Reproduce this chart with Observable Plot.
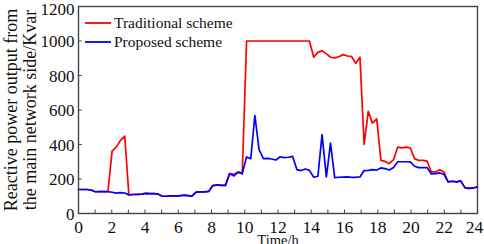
<!DOCTYPE html>
<html><head><meta charset="utf-8">
<script src="https://cdn.jsdelivr.net/npm/d3@7"></script>
<script src="https://cdn.jsdelivr.net/npm/@observablehq/plot@0.6"></script>
<style>
html,body{margin:0;padding:0;background:#fff;}
#wrap{position:relative;width:484px;height:244px;overflow:hidden;font-family:"Liberation Serif","Times New Roman",serif;}
#wrap svg text{font-family:"Liberation Serif","Times New Roman",serif;}
#legend{position:absolute;left:85px;top:13px;font-size:15.5px;color:#111;}
#legend .row{display:flex;align-items:center;height:19px;}
#legend svg{margin-right:3px;}
</style></head><body>
<div id="wrap"><div id="legend"></div></div>
<script>
const time = [0.00,0.25,0.51,0.76,1.01,1.26,1.52,1.77,2.02,2.27,2.53,2.78,3.03,3.28,3.54,3.79,4.04,4.29,4.55,4.80,5.05,5.31,5.56,5.81,6.06,6.32,6.57,6.82,7.07,7.33,7.58,7.83,8.08,8.34,8.59,8.84,9.09,9.35,9.60,9.85,10.11,10.36,10.61,10.86,11.12,11.37,11.62,11.87,12.13,12.38,12.63,12.88,13.14,13.39,13.64,13.89,14.15,14.40,14.65,14.91,15.16,15.41,15.66,15.92,16.17,16.42,16.67,16.93,17.18,17.43,17.68,17.94,18.19,18.44,18.69,18.95,19.20,19.45,19.71,19.96,20.21,20.46,20.72,20.97,21.22,21.47,21.73,21.98,22.23,22.48,22.74,22.99,23.24,23.49,23.75,24.00];
const traditional = [139,139,139,136,126,127,127,127,362,385,
424,449,108,110,111,112,117,115,115,112,
100,100,102,103,102,106,104,101,124,125,
125,128,162,166,163,163,231,228,240,231,
1000,1000,1000,1000,1000,1000,1000,1000,1000,1000,
1000,1000,1000,1000,1000,1000,906,934,944,925,
906,902,909,921,913,911,871,906,401,592,
524,549,308,302,289,312,385,380,385,380,
318,308,308,304,241,241,254,241,183,187,
183,189,150,146,148,154];
const proposed = [139,139,139,136,126,127,127,127,123,118,
121,119,108,110,111,112,117,115,115,112,
100,100,102,103,102,106,104,101,124,125,
125,128,162,166,163,163,231,218,240,231,
328,318,568,370,318,320,316,310,329,324,
326,331,254,249,258,250,210,216,457,212,
408,208,210,211,212,210,210,212,249,250,
254,252,264,260,252,266,300,300,300,299,
274,266,266,266,229,231,235,227,183,187,
183,189,150,146,148,154];
const seriesNames = ["Traditional scheme", "Proposed scheme"];
const seriesColors = ["#ff0000", "#0000ff"];
const xTicks = [0,2,4,6,8,10,12,14,16,18,20,22];
const xLastTick = [24];
const xMinorTicks = [1,2,3,4,5,6,7,8,9,10,11,12,13,14,15,16,17,18,19,20,21,22,23];
const yTicks = [0,200,400,600,800,1000];
const yTopTick = [1200];
const yInnerTicks = [200,400,600,800,1000];
const xLabel = "Time/h";
const yLabel = "Reactive power output from\nthe main network side/Kvar";

const data = time.map((t, i) => ({t, trad: traditional[i], prop: proposed[i]}));
const font = '"Liberation Serif","Times New Roman",serif';
const fmt = d => String(d);

const chart = Plot.plot({
  width: 484, height: 244,
  marginLeft: 78, marginRight: 7, marginTop: 6, marginBottom: 31,
  style: {fontFamily: font, background: "white", color: "#111"},
  x: {domain: [0, 24]},
  y: {domain: [0, 1200]},
  marks: [
    Plot.line(data, {x: "t", y: "trad", stroke: seriesColors[0], strokeWidth: 1.7}),
    Plot.line(data, {x: "t", y: "prop", stroke: seriesColors[1], strokeWidth: 1.7}),
    Plot.ruleX(xMinorTicks, {y1: 0, y2: 20, stroke: "#444", strokeWidth: 1}),
    Plot.ruleY(yInnerTicks, {x1: 0, x2: 0.22, stroke: "#444", strokeWidth: 1}),
    Plot.frame({stroke: "#444", strokeWidth: 1.4}),
    Plot.axisX(xTicks, {tickSize: 0, tickPadding: 7, fontSize: 17.5, fontFamily: font, tickFormat: fmt, label: null}),
    Plot.axisX(xLastTick, {tickSize: 0, tickPadding: 7, fontSize: 17.5, fontFamily: font, tickFormat: fmt, dx: -3, label: null}),
    Plot.axisY(yTicks, {tickSize: 0, tickPadding: 4, fontSize: 17, fontFamily: font, tickFormat: fmt, dy: 1, label: null}),
    Plot.axisY(yTopTick, {tickSize: 0, tickPadding: 4, fontSize: 17, fontFamily: font, tickFormat: fmt, dy: 3, label: null}),
    Plot.text([xLabel], {frameAnchor: "bottom", dy: 31, lineAnchor: "bottom", fontSize: 14.5, fontFamily: font, fill: "#111"}),
    Plot.text([yLabel], {frameAnchor: "left", rotate: -90, dx: -58, textAnchor: "middle", lineAnchor: "middle", fontSize: 18, lineHeight: 1.05, fontFamily: font, fill: "#111"})
  ]
});
const wrap = document.getElementById("wrap");
wrap.insertBefore(chart, wrap.firstChild);
const legend = document.getElementById("legend");
seriesNames.forEach((name, i) => {
  const row = document.createElement("div");
  row.className = "row";
  row.innerHTML = `<svg width="26" height="6"><line x1="0" y1="3" x2="26" y2="3" stroke="${seriesColors[i]}" stroke-width="1.8"/></svg><span>${name}</span>`;
  legend.appendChild(row);
});
</script>
</body></html>
